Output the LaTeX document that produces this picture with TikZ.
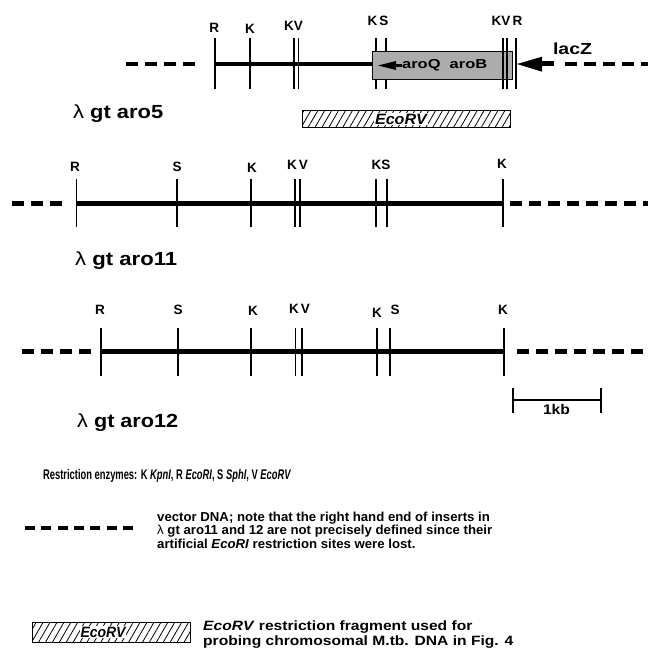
\documentclass[tikz,border=0pt]{standalone}
\usepackage{fontspec}
\setmainfont{Liberation Sans}
\usepackage{graphicx}
\usetikzlibrary{patterns.meta}
\newcommand{\fitw}[2]{\resizebox{#1pt}{\height}{#2}}
\begin{document}
\begin{tikzpicture}[x=1pt,y=-1pt,
  mainline/.style={line width=4.5pt},
  vecline/.style={line width=4.5pt, dash pattern=on 12pt off 7pt},
  legline/.style={line width=4pt, dash pattern=on 10pt off 6.3pt},
  sitetick/.style={line width=1.8pt},
  site/.style={font=\fontsize{13.5}{13.5}\selectfont\bfseries, inner sep=0pt},
  ttl/.style={font=\fontsize{19}{19}\selectfont\bfseries, inner sep=0pt, anchor=base west},
  txt/.style={inner sep=0pt, anchor=west, align=left},
  hatchbox/.style={draw=black, line width=1pt, inner sep=0pt,
     pattern={Lines[angle=60,distance=6pt,line width=0.8pt]}},
  ecotxt/.style={fill=white, inner sep=0.6pt, font=\fontsize{15}{15}\selectfont\bfseries\itshape},
]
\useasboundingbox (0,0) rectangle (648,661);

% ---------------- row 1 : lambda gt aro5
\coordinate (r1a) at (126,64);  \coordinate (r1b) at (201,64);
\coordinate (r1c) at (214.6,64); \coordinate (r1d) at (372,64);
\coordinate (r1e) at (565,64);  \coordinate (r1f) at (648,64);
\draw[vecline] (r1a) -- (r1b);
\draw[mainline] (r1c) -- (r1d);
\foreach \x in {214.6,249.6,294,298.5}
  \draw[sitetick] (\x,38) -- (\x,89);
\node[draw, line width=1pt, fill=black!30, minimum width=140.4pt, minimum height=27pt, inner sep=0pt,
  postaction={pattern={Dots[distance=2pt,radius=0.45pt]}, pattern color=black!55}]
  (genebox) at (442.2,65.5) {};
\foreach \x in {376,386}{
  \draw[sitetick] (\x,38) -- (\x,52);
  \draw[sitetick] (\x,79) -- (\x,89);}
\foreach \x in {502.6,507,516}
  \draw[sitetick] (\x,38) -- (\x,89);
\coordinate (qtip) at (378,65.5);
\fill (qtip) -- (396,61) -- (396,70) -- cycle;
\draw[line width=2.5pt] (395,65.5) -- (402,65.5);
\node[inner sep=0pt, anchor=west, font=\fontsize{13}{13}\selectfont\bfseries] (aroQB) at (402,65.5) {\fitw{85}{aroQ\ \ aroB}};
% lacZ arrow
\coordinate (ltip) at (517,64);
\fill (ltip) -- (542,56.7) -- (542,71.7) -- cycle;
\draw[line width=5pt] (541,64) -- (554,64);
\draw[vecline] (r1e) -- (r1f);
\node[inner sep=0pt, font=\fontsize{16}{16}\selectfont\bfseries] (lacz) at (572.5,49) {\fitw{39}{lacZ}};
% labels
\node[site] (r1R1) at (214.3,27.5) {R};
\node[site] (r1K1) at (250,29) {K};
\node[site] (r1KV) at (293.6,26) {KV};
\node[site] (r1KS) at (378,20.5) {K\,S};
\node[site] (r1KVR) at (507,20.5) {KV\,R};
\node[ttl] (t5) at (73,118) {\fitw{90}{\mdseries λ\ \bfseries gt aro5}};
% EcoRV fragment
\node[hatchbox, minimum width=208pt, minimum height=17pt] (frag) at (406,119.2) {};
\node[ecotxt] (fragtxt) at (401,119.2) {\fitw{52}{EcoRV}};

% ---------------- row 2 : lambda gt aro11
\coordinate (r2a) at (12,203.3); \coordinate (r2b) at (68,203.3);
\coordinate (r2c) at (76.4,203.3); \coordinate (r2d) at (504,203.3);
\coordinate (r2e) at (510,203.3); \coordinate (r2f) at (648,203.3);
\draw[vecline] (r2a) -- (r2b);
\draw[mainline] (r2c) -- (r2d);
\draw[vecline] (r2e) -- (r2f);
\foreach \x in {76.4,176.9,250.8,294.6,299.6,376,387.2,503.3}
  \draw[sitetick] (\x,179) -- (\x,227);
\node[site] (r2R) at (75,166.7) {R};
\node[site] (r2S) at (177,166.7) {S};
\node[site] (r2K1) at (252,168) {K};
\node[site] (r2KV) at (297.5,164.5) {K\,V};
\node[site] (r2KS) at (381,165) {KS};
\node[site] (r2K2) at (502,164) {K};
\node[ttl] (t11) at (75,265) {\fitw{102}{\mdseries λ\ \bfseries gt aro11}};

% ---------------- row 3 : lambda gt aro12
\coordinate (r3a) at (22,351.7); \coordinate (r3b) at (97,351.7);
\coordinate (r3c) at (101,351.7); \coordinate (r3d) at (504,351.7);
\coordinate (r3e) at (517,351.7); \coordinate (r3f) at (648,351.7);
\draw[vecline] (r3a) -- (r3b);
\draw[mainline] (r3c) -- (r3d);
\draw[vecline] (r3e) -- (r3f);
\foreach \x in {101,178,251,295.5,301.6,377,390,504}
  \draw[sitetick] (\x,328) -- (\x,376);
\node[site] (r3R) at (100,310) {R};
\node[site] (r3S1) at (178,310) {S};
\node[site] (r3K1) at (253,310.5) {K};
\node[site] (r3KV) at (299.5,309) {K\,V};
\node[site] (r3K2) at (377,313) {K};
\node[site] (r3S2) at (395,310) {S};
\node[site] (r3K3) at (503,310) {K};
\node[ttl] (t12) at (77,427) {\fitw{101}{\mdseries λ\ \bfseries gt aro12}};
% scale bar
\coordinate (sbL) at (513,400); \coordinate (sbR) at (601,400);
\draw[line width=1.8pt] (sbL) -- (sbR);
\draw[line width=1.8pt] (513,388) -- (513,413);
\draw[line width=1.8pt] (601,388) -- (601,413);
\node[inner sep=0pt, font=\fontsize{14}{14}\selectfont\bfseries] (kb) at (556.5,409) {\fitw{27}{1kb}};

% ---------------- legend
\node[txt, anchor=base west, font=\fontsize{14}{14}\selectfont\bfseries] (enz) at (43,479)
  {\fitw{248}{Restriction enzymes: K \textit{KpnI}, R \textit{EcoRI}, S \textit{SphI}, V \textit{EcoRV}}};
\coordinate (vlA) at (25,528); \coordinate (vlB) at (138,528);
\draw[legline] (vlA) -- (vlB);
\node[txt, font=\fontsize{13}{12.7}\selectfont\bfseries] (vectxt) at (157,532)
  {\fitw{335}{\begin{tabular}{@{}l@{}}vector DNA; note that the right hand end of inserts in\\
  {\mdseries λ}\ gt aro11 and 12 are not precisely defined since their\\
  artificial \textit{EcoRI} restriction sites were lost.\end{tabular}}};
\node[hatchbox, minimum width=158pt, minimum height=20pt] (legbox) at (111,632) {};
\node[ecotxt] (legtxt) at (103,632) {\fitw{45}{EcoRV}};
\node[txt, font=\fontsize{13.5}{15}\selectfont\bfseries] (fragdesc) at (203,634.5)
  {\fitw{310}{\begin{tabular}{@{}l@{}}\textit{EcoRV} restriction fragment used for\\
  probing chromosomal M.tb. DNA in Fig. 4\end{tabular}}};
\end{tikzpicture}
\end{document}
